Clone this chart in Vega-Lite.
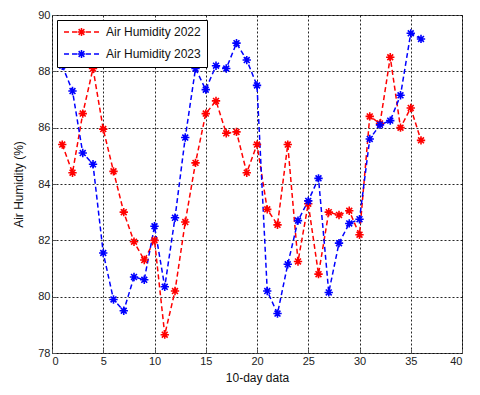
{
  "$schema": "https://vega.github.io/schema/vega-lite/v6.json",
  "width": 410,
  "height": 338,
  "autosize": {"type": "none"},
  "padding": {"left": 52, "top": 15, "right": 18, "bottom": 42},
  "background": "white",
  "config": {
    "font": "Liberation Sans",
    "view": {"stroke": "#555", "strokeWidth": 1},
    "axis": {
      "labelFont": "Liberation Sans",
      "labelFontSize": 11,
      "labelColor": "#222",
      "titleFont": "Liberation Sans",
      "titleFontSize": 12,
      "titleFontWeight": "normal",
      "titleColor": "#111",
      "domain": false,
      "tickColor": "#555",
      "tickSize": -4,
      "gridColor": "#000",
      "gridOpacity": 0.85,
      "gridDash": [2, 2],
      "gridWidth": 1
    }
  },
  "data": {
    "values": [
      {"x": 1, "s": "Air Humidity 2022", "v": 85.4},
      {"x": 2, "s": "Air Humidity 2022", "v": 84.4},
      {"x": 3, "s": "Air Humidity 2022", "v": 86.5},
      {"x": 4, "s": "Air Humidity 2022", "v": 88.1},
      {"x": 5, "s": "Air Humidity 2022", "v": 85.95},
      {"x": 6, "s": "Air Humidity 2022", "v": 84.45},
      {"x": 7, "s": "Air Humidity 2022", "v": 83.0},
      {"x": 8, "s": "Air Humidity 2022", "v": 81.95},
      {"x": 9, "s": "Air Humidity 2022", "v": 81.3},
      {"x": 10, "s": "Air Humidity 2022", "v": 82.0},
      {"x": 11, "s": "Air Humidity 2022", "v": 78.65},
      {"x": 12, "s": "Air Humidity 2022", "v": 80.2},
      {"x": 13, "s": "Air Humidity 2022", "v": 82.65},
      {"x": 14, "s": "Air Humidity 2022", "v": 84.75},
      {"x": 15, "s": "Air Humidity 2022", "v": 86.5},
      {"x": 16, "s": "Air Humidity 2022", "v": 86.95},
      {"x": 17, "s": "Air Humidity 2022", "v": 85.8},
      {"x": 18, "s": "Air Humidity 2022", "v": 85.85},
      {"x": 19, "s": "Air Humidity 2022", "v": 84.4},
      {"x": 20, "s": "Air Humidity 2022", "v": 85.4},
      {"x": 21, "s": "Air Humidity 2022", "v": 83.1},
      {"x": 22, "s": "Air Humidity 2022", "v": 82.55},
      {"x": 23, "s": "Air Humidity 2022", "v": 85.4},
      {"x": 24, "s": "Air Humidity 2022", "v": 81.25},
      {"x": 25, "s": "Air Humidity 2022", "v": 83.3},
      {"x": 26, "s": "Air Humidity 2022", "v": 80.8},
      {"x": 27, "s": "Air Humidity 2022", "v": 83.0},
      {"x": 28, "s": "Air Humidity 2022", "v": 82.9},
      {"x": 29, "s": "Air Humidity 2022", "v": 83.05},
      {"x": 30, "s": "Air Humidity 2022", "v": 82.2},
      {"x": 31, "s": "Air Humidity 2022", "v": 86.4},
      {"x": 32, "s": "Air Humidity 2022", "v": 86.15},
      {"x": 33, "s": "Air Humidity 2022", "v": 88.5},
      {"x": 34, "s": "Air Humidity 2022", "v": 86.0},
      {"x": 35, "s": "Air Humidity 2022", "v": 86.7},
      {"x": 36, "s": "Air Humidity 2022", "v": 85.55},
      {"x": 1, "s": "Air Humidity 2023", "v": 88.2},
      {"x": 2, "s": "Air Humidity 2023", "v": 87.3},
      {"x": 3, "s": "Air Humidity 2023", "v": 85.1},
      {"x": 4, "s": "Air Humidity 2023", "v": 84.7},
      {"x": 5, "s": "Air Humidity 2023", "v": 81.55},
      {"x": 6, "s": "Air Humidity 2023", "v": 79.9},
      {"x": 7, "s": "Air Humidity 2023", "v": 79.5},
      {"x": 8, "s": "Air Humidity 2023", "v": 80.7},
      {"x": 9, "s": "Air Humidity 2023", "v": 80.6},
      {"x": 10, "s": "Air Humidity 2023", "v": 82.5},
      {"x": 11, "s": "Air Humidity 2023", "v": 80.35},
      {"x": 12, "s": "Air Humidity 2023", "v": 82.8},
      {"x": 13, "s": "Air Humidity 2023", "v": 85.65},
      {"x": 14, "s": "Air Humidity 2023", "v": 88.1},
      {"x": 15, "s": "Air Humidity 2023", "v": 87.35},
      {"x": 16, "s": "Air Humidity 2023", "v": 88.2},
      {"x": 17, "s": "Air Humidity 2023", "v": 88.1},
      {"x": 18, "s": "Air Humidity 2023", "v": 89.0},
      {"x": 19, "s": "Air Humidity 2023", "v": 88.4},
      {"x": 20, "s": "Air Humidity 2023", "v": 87.5},
      {"x": 21, "s": "Air Humidity 2023", "v": 80.2},
      {"x": 22, "s": "Air Humidity 2023", "v": 79.4},
      {"x": 23, "s": "Air Humidity 2023", "v": 81.15},
      {"x": 24, "s": "Air Humidity 2023", "v": 82.7},
      {"x": 25, "s": "Air Humidity 2023", "v": 83.4},
      {"x": 26, "s": "Air Humidity 2023", "v": 84.2},
      {"x": 27, "s": "Air Humidity 2023", "v": 80.15},
      {"x": 28, "s": "Air Humidity 2023", "v": 81.9},
      {"x": 29, "s": "Air Humidity 2023", "v": 82.6},
      {"x": 30, "s": "Air Humidity 2023", "v": 82.75},
      {"x": 31, "s": "Air Humidity 2023", "v": 85.6},
      {"x": 32, "s": "Air Humidity 2023", "v": 86.1},
      {"x": 33, "s": "Air Humidity 2023", "v": 86.25},
      {"x": 34, "s": "Air Humidity 2023", "v": 87.15},
      {"x": 35, "s": "Air Humidity 2023", "v": 89.35},
      {"x": 36, "s": "Air Humidity 2023", "v": 89.15}
    ]
  },
  "encoding": {
    "x": {
      "field": "x", "type": "quantitative",
      "scale": {"domain": [0, 40], "nice": false, "zero": false},
      "axis": {"values": [0, 5, 10, 15, 20, 25, 30, 35, 40], "title": "10-day data", "titlePadding": 6, "labelPadding": 6}
    },
    "y": {
      "field": "v", "type": "quantitative",
      "scale": {"domain": [78, 90], "nice": false, "zero": false},
      "axis": {"values": [78, 80, 82, 84, 86, 88, 90], "title": "Air Humidity (%)", "titlePadding": 12, "labelPadding": 6}
    },
    "color": {
      "field": "s", "type": "nominal",
      "scale": {"domain": ["Air Humidity 2022", "Air Humidity 2023"], "range": ["#ff0000", "#0000ff"]},
      "legend": {
        "title": null,
        "orient": "top-left",
        "offset": 5,
        "fillColor": "white",
        "strokeColor": "#000",
        "padding": 6,
        "rowPadding": 8,
        "symbolType": "M-1,0H0M0.6,0H1.6M2.2,0H2.8M3.4,0H4.4M5,0H6M1.7,0H3.3M2.5,-0.8V0.8M1.93,-0.57L3.07,0.57M1.93,0.57L3.07,-0.57",
        "symbolSize": 100,
        "symbolStrokeWidth": 1.5,
        "symbolFillColor": "transparent",
        "symbolDash": [1, 0],
        "labelOffset": 31,
        "labelFont": "Liberation Sans",
        "labelFontSize": 12,
        "labelColor": "#111"
      }
    }
  },
  "layer": [
    {
      "mark": {"type": "line", "strokeWidth": 1.5, "strokeDash": [5, 3]}
    },
    {
      "mark": {
        "type": "point",
        "shape": "M-1,0L1,0M0,-1L0,1M-0.7,-0.7L0.7,0.7M-0.7,0.7L0.7,-0.7",
        "filled": false,
        "size": 70,
        "strokeWidth": 1.6,
        "opacity": 1
      }
    }
  ]
}
